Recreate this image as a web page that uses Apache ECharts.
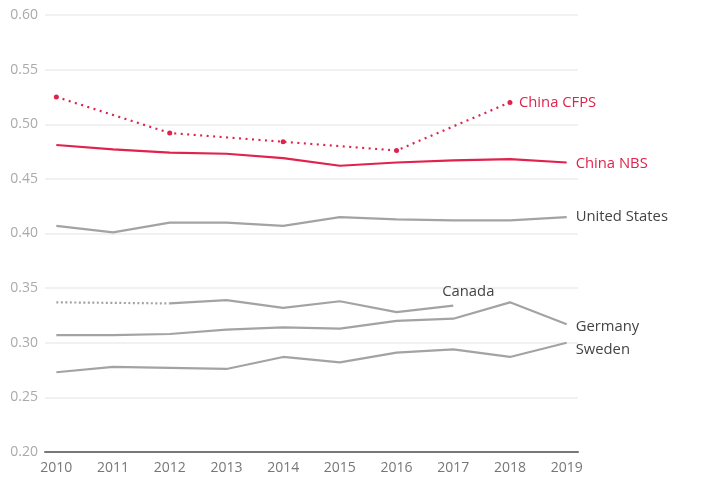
<!DOCTYPE html>
<html>
<head>
<meta charset="utf-8">
<script src="https://cdn.jsdelivr.net/npm/echarts@6/dist/echarts.min.js"></script>
<style>
html,body{margin:0;padding:0;background:#fff;}
#main{width:705px;height:493px;}
</style>
</head>
<body>
<div id="main"></div>
<script>
var years = [2010, 2011, 2012, 2013, 2014, 2015, 2016, 2017, 2018, 2019];
var cfpsYears = [2010, 2012, 2014, 2016, 2018];
var chinaCFPS = [0.525, 0.492, 0.484, 0.476, 0.520];
var chinaNBS = [0.481, 0.477, 0.474, 0.473, 0.469, 0.462, 0.465, 0.467, 0.468, 0.465];
var unitedStates = [0.407, 0.401, 0.410, 0.410, 0.407, 0.415, 0.413, 0.412, 0.412, 0.415];
var canadaDottedYears = [2010, 2012];
var canadaDotted = [0.337, 0.336];
var canadaYears = [2012, 2013, 2014, 2015, 2016, 2017];
var canada = [0.336, 0.339, 0.332, 0.338, 0.328, 0.334];
var germany = [0.307, 0.307, 0.308, 0.312, 0.314, 0.313, 0.320, 0.322, 0.337, 0.317];
var sweden = [0.273, 0.278, 0.277, 0.276, 0.287, 0.282, 0.291, 0.294, 0.287, 0.300];
var yTicks = [0.20, 0.25, 0.30, 0.35, 0.40, 0.45, 0.50, 0.55, 0.60];

function pairs(xs, ys) { return xs.map(function (x, i) { return [x, ys[i]]; }); }

var RED = '#e0224c';
var GREY = '#a3a3a3';
var FONT = '"Open Sans", sans-serif';

function endLbl(text, color, offset) {
  return {
    show: true,
    formatter: text,
    color: color,
    fontFamily: FONT,
    fontSize: 14.8,
    distance: 9,
    offset: offset || [0, 0]
  };
}

var chart = echarts.init(document.getElementById('main'), null, {renderer: 'canvas'});
chart.setOption({
  animation: false,
  backgroundColor: '#fff',
  grid: {left: 45, right: 127, top: 15, bottom: 41, containLabel: false},
  xAxis: {
    type: 'value',
    min: 2009.8,
    max: 2019.2,
    axisLine: {show: true, onZero: false, lineStyle: {color: '#777', width: 2}},
    axisTick: {show: false},
    splitLine: {show: false},
    axisLabel: {
      customValues: years,
      color: '#777',
      fontFamily: FONT,
      fontSize: 14,
      margin: 9,
      formatter: function (v) { return String(Math.round(v)); }
    }
  },
  yAxis: {
    type: 'value',
    min: 0.2,
    max: 0.6,
    interval: 0.05,
    axisLine: {show: false},
    axisTick: {show: false},
    splitLine: {show: true, lineStyle: {color: '#ececec', width: 1.5}},
    axisLabel: {
      customValues: yTicks,
      color: '#aaa',
      fontFamily: FONT,
      fontSize: 14,
      margin: 7,
      formatter: function (v) { return v.toFixed(2); }
    }
  },
  series: [
    {
      name: 'China CFPS', type: 'line', data: pairs(cfpsYears, chinaCFPS),
      lineStyle: {color: RED, width: 2.2, type: [2, 4.5]},
      symbol: 'circle', symbolSize: 5, itemStyle: {color: RED},
      endLabel: endLbl('China CFPS', RED, [0, 0]), z: 5
    },
    {
      name: 'China NBS', type: 'line', data: pairs(years, chinaNBS),
      lineStyle: {color: RED, width: 2.2}, showSymbol: false, symbol: 'none',
      endLabel: endLbl('China NBS', RED, [0, 1]), z: 5
    },
    {
      name: 'United States', type: 'line', data: pairs(years, unitedStates),
      lineStyle: {color: GREY, width: 2.2}, symbol: 'none',
      endLabel: endLbl('United States', '#444', [0, 0])
    },
    {
      name: 'Canada dotted', type: 'line', data: pairs(canadaDottedYears, canadaDotted),
      lineStyle: {color: GREY, width: 2.2, type: [2, 2.5]}, symbol: 'none'
    },
    {
      name: 'Canada', type: 'line', data: pairs(canadaYears, canada),
      lineStyle: {color: GREY, width: 2.2}, symbol: 'none',
      endLabel: endLbl('Canada', '#444', [-20, -14])
    },
    {
      name: 'Germany', type: 'line', data: pairs(years, germany),
      lineStyle: {color: GREY, width: 2.2}, symbol: 'none',
      endLabel: endLbl('Germany', '#444', [0, 3])
    },
    {
      name: 'Sweden', type: 'line', data: pairs(years, sweden),
      lineStyle: {color: GREY, width: 2.2}, symbol: 'none',
      endLabel: endLbl('Sweden', '#444', [0, 7])
    }
  ]
});
</script>
</body>
</html>
